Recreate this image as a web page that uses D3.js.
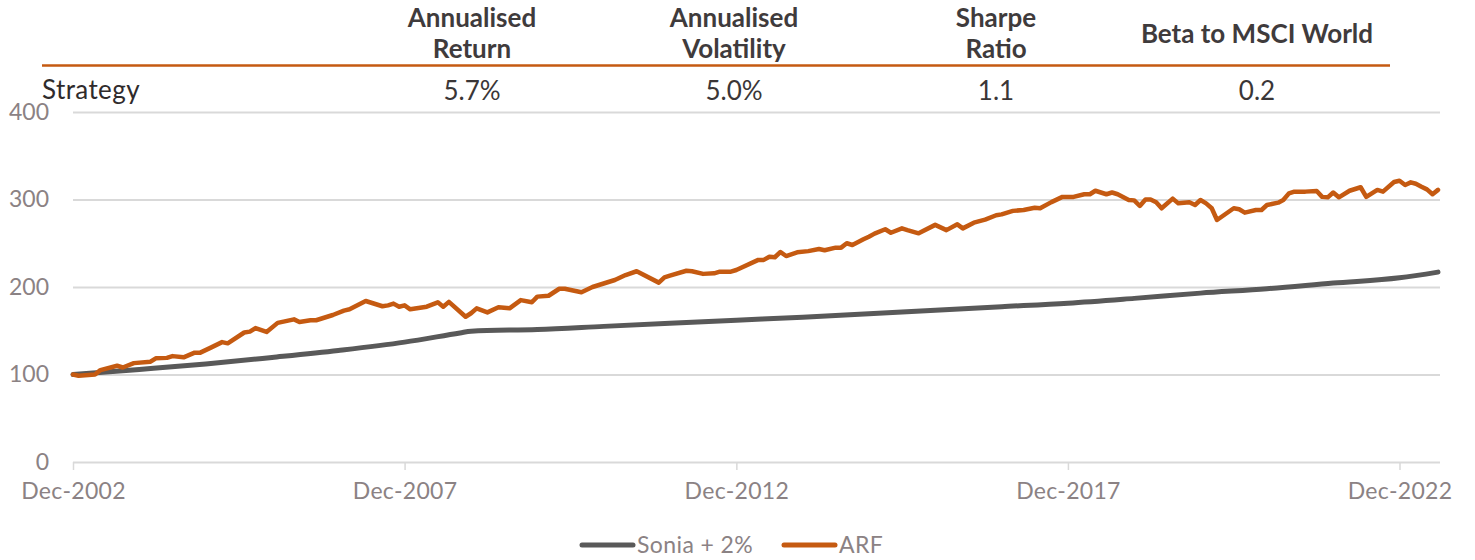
<!DOCTYPE html>
<html>
<head>
<meta charset="utf-8">
<script src="https://cdn.jsdelivr.net/npm/d3@7"></script>
<style>
  html, body { margin: 0; padding: 0; background: #ffffff; }
  svg { display: block; font-family: Lato, "Noto Sans", sans-serif; }
</style>
</head>
<body>
<svg id="chart" width="1475" height="560"></svg>
<script>
// ---------------- DATA ----------------
const arfDates = [
  "2002-12","2003-01","2003-04","2003-05","2003-08","2003-09","2003-11","2004-02","2004-03","2004-05",
  "2004-06","2004-08","2004-10","2004-11","2005-01","2005-03","2005-04","2005-07","2005-08","2005-09",
  "2005-11","2006-01","2006-04","2006-05","2006-07","2006-08","2006-11","2007-01","2007-02","2007-05",
  "2007-08","2007-09","2007-10","2007-11","2007-12","2008-01","2008-04","2008-06","2008-07","2008-08",
  "2008-11","2008-12","2009-01","2009-03","2009-05","2009-07","2009-09","2009-11","2009-12","2010-02",
  "2010-04","2010-05","2010-08","2010-10","2010-11","2011-01","2011-02","2011-04","2011-06","2011-10",
  "2011-11","2011-12","2012-03","2012-04","2012-06","2012-08","2012-09","2012-11","2012-12","2013-04",
  "2013-05","2013-06","2013-07","2013-08","2013-09","2013-11","2014-01","2014-03","2014-04","2014-06",
  "2014-07","2014-08","2014-09","2014-11","2014-12","2015-01","2015-03","2015-04","2015-06","2015-07",
  "2015-09","2015-12","2016-02","2016-04","2016-05","2016-07","2016-09","2016-11","2016-12","2017-01",
  "2017-02","2017-04","2017-06","2017-07","2017-09","2017-11","2018-01","2018-03","2018-04","2018-05",
  "2018-07","2018-08","2018-09","2018-11","2018-12","2019-01","2019-02","2019-03","2019-04","2019-05",
  "2019-07","2019-08","2019-10","2019-11","2019-12","2020-01","2020-02","2020-03","2020-06","2020-07",
  "2020-08","2020-10","2020-11","2020-12","2021-02","2021-03","2021-04","2021-05","2021-07","2021-09",
  "2021-10","2021-11","2021-12","2022-01","2022-03","2022-05","2022-06","2022-08","2022-09","2022-11",
  "2022-12","2023-01","2023-02","2023-03","2023-04","2023-05","2023-06","2023-07"
];
const arfValues = [
  100, 98.5, 100, 105, 110, 108, 113, 114.6, 118.5, 119,
  121, 119.6, 125, 125, 131, 137, 135.6, 148, 149, 153,
  148.6, 159, 163, 160, 162, 162, 168, 173, 174.5, 184,
  178, 179, 181, 177.5, 179, 174.5, 177.5, 182.5, 177.5, 183,
  166, 170, 175.6, 171, 176.8, 175.6, 185, 182.5, 189, 190,
  198, 198, 194, 200, 202, 206, 208, 213.7, 218, 205,
  211, 213, 218.6, 218, 215, 215.6, 217.5, 217.5, 219.4, 231,
  231, 234.6, 234, 240, 235.4, 239.6, 241, 243.4, 242, 245,
  245, 250, 248, 254.5, 257.5, 261, 266, 262, 267, 265,
  261.3, 271, 265, 271.6, 267, 273.5, 277, 282, 283, 285,
  287, 288, 290.6, 290, 297, 303, 303, 306, 306, 310,
  306, 308, 306, 299.4, 299, 292.6, 300, 300, 296.8, 290,
  301, 295.6, 296.8, 293.7, 299.4, 295.6, 290, 276.6, 290, 288.8,
  285, 288, 288, 293.7, 296.4, 299.4, 307, 309, 309, 309.7,
  303, 302.5, 308, 302.5, 310, 314, 303, 310.9, 309, 320,
  321.5, 316.6, 319.6, 318, 314.6, 311.6, 306, 311
];
const soniaDates = [
  "2002-12","2003-12","2004-12","2005-12","2006-12","2007-12","2008-10","2008-12","2009-12","2010-12",
  "2011-12","2012-12","2013-12","2014-12","2015-12","2016-12","2017-12","2018-12","2019-12","2020-12",
  "2021-12","2022-12","2023-07"
];
const soniaValues = [
  100, 105.8, 112, 119.5, 127.5, 137, 147.5, 149.5, 151.5, 155,
  158.5, 162, 165.5, 169.5, 173.5, 177.5, 181.5, 187, 193, 198,
  204.5, 210.5, 217
];
const seriesNames = ["Sonia + 2%", "ARF"];
const yTicks = [0, 100, 200, 300, 400];
const xTickDates = ["2002-12","2007-12","2012-12","2017-12","2022-12"];

const tableHeaders = [["Annualised","Return"],["Annualised","Volatility"],["Sharpe","Ratio"],["Beta to MSCI World"]];
const tableRowLabel = "Strategy";
const tableValues = ["5.7%","5.0%","1.1","0.2"];

// ---------------- STYLE ----------------
const COL_ORANGE = "#c55a11";
const COL_GREY_LINE = "#595959";
const COL_GRID = "#d9d9d9";
const COL_TICK = "#8b8284";
const COL_HEAD = "#3f3b3c";

const svg = d3.select("#chart");
const parse = d3.timeParse("%Y-%m");

const arf = arfDates.map((d, i) => ({ date: parse(d), value: arfValues[i] }));
const sonia = soniaDates.map((d, i) => ({ date: parse(d), value: soniaValues[i] }));

const x = d3.scaleTime()
  .domain([parse("2002-12"), parse("2023-07")])
  .range([73, 1438]);
const y = d3.scaleLinear().domain([0, 400]).range([462, 112]);

// ---------------- TABLE ----------------
const colX = [472, 734, 996, 1257];
const head = svg.append("g").attr("fill", COL_HEAD).attr("font-weight", 700)
  .attr("font-size", 26).attr("text-anchor", "middle");
tableHeaders.forEach((lines, i) => {
  if (lines.length === 2) {
    head.append("text").attr("x", colX[i]).attr("y", 27).text(lines[0]);
    head.append("text").attr("x", colX[i]).attr("y", 58).text(lines[1]);
  } else {
    head.append("text").attr("x", colX[i]).attr("y", 43).text(lines[0]);
  }
});
svg.append("line").attr("x1", 42).attr("x2", 1390).attr("y1", 65.5).attr("y2", 65.5)
  .attr("stroke", COL_ORANGE).attr("stroke-width", 2.5);
svg.append("text").attr("x", 42).attr("y", 99).attr("font-size", 26)
  .attr("letter-spacing", 0.4).attr("fill", "#2f2b2c").text(tableRowLabel);
svg.append("g").selectAll("text").data(tableValues).join("text")
  .attr("x", (d, i) => colX[i]).attr("y", 100).attr("text-anchor", "middle")
  .attr("font-size", 26).attr("fill", "#3a3637").text(d => d);

// ---------------- GRID & AXES ----------------
const yAxis = svg.append("g")
  .attr("transform", "translate(73,0)")
  .call(d3.axisLeft(y).tickValues(yTicks).tickSize(-1367).tickPadding(24).tickFormat(d3.format("d")));
yAxis.select(".domain").remove();
yAxis.selectAll(".tick line").attr("stroke", COL_GRID).attr("stroke-width", 2);
yAxis.selectAll(".tick text").attr("fill", COL_TICK).attr("font-size", 23).attr("font-family", "Lato, sans-serif");

const xAxis = svg.append("g")
  .attr("transform", "translate(0,462)")
  .call(d3.axisBottom(x).tickValues(xTickDates.map(parse)).tickSize(8).tickPadding(13)
    .tickFormat(d3.timeFormat("%b-%Y")));
xAxis.select(".domain").remove();
xAxis.selectAll(".tick line").attr("stroke", COL_GRID).attr("stroke-width", 1.5);
xAxis.selectAll(".tick text").attr("fill", COL_TICK).attr("font-size", 23)
  .attr("letter-spacing", 0.3).attr("font-family", "Lato, sans-serif");

// ---------------- LINES ----------------
const lineArf = d3.line().x(d => x(d.date)).y(d => y(d.value)).curve(d3.curveLinear);
const lineSonia = d3.line().x(d => x(d.date)).y(d => y(d.value)).curve(d3.curveMonotoneX);

svg.append("path").datum(sonia).attr("d", lineSonia)
  .attr("fill", "none").attr("stroke", COL_GREY_LINE).attr("stroke-width", 5)
  .attr("stroke-linecap", "round").attr("stroke-linejoin", "round");
svg.append("path").datum(arf).attr("d", lineArf)
  .attr("fill", "none").attr("stroke", COL_ORANGE).attr("stroke-width", 4.5)
  .attr("stroke-linecap", "round").attr("stroke-linejoin", "round");

// ---------------- LEGEND ----------------
const legendItems = [
  { name: seriesNames[0], color: COL_GREY_LINE, x: 582 },
  { name: seriesNames[1], color: COL_ORANGE, x: 784 }
];
const lg = svg.append("g");
legendItems.forEach(it => {
  lg.append("line").attr("x1", it.x).attr("x2", it.x + 51).attr("y1", 545).attr("y2", 545)
    .attr("stroke", it.color).attr("stroke-width", 5).attr("stroke-linecap", "round");
  lg.append("text").attr("x", it.x + 55).attr("y", 553).attr("font-size", 23)
    .attr("letter-spacing", 0.4).attr("fill", COL_TICK).text(it.name);
});
</script>
</body>
</html>
